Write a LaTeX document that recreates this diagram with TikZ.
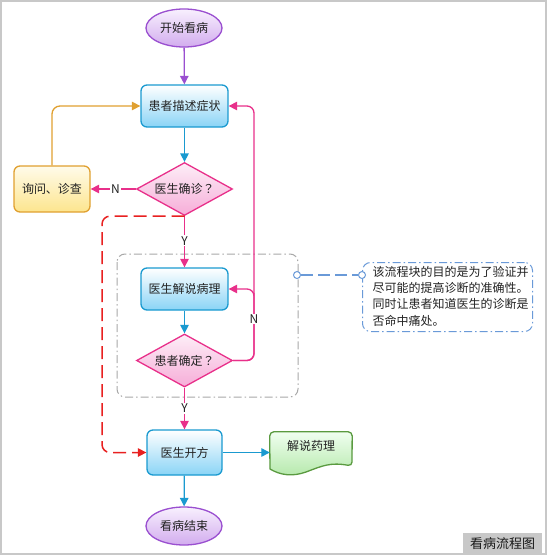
\documentclass[tikz,border=0pt]{standalone}
\usepackage{fontspec}
\setmainfont{Noto Sans CJK SC}
\newfontfamily\tcfont{Noto Sans CJK TC}
\usetikzlibrary{shapes.geometric,arrows.meta,calc}
\definecolor{cblue}{HTML}{1A9AD0}
\definecolor{cpink}{HTML}{E8308A}
\definecolor{cpurple}{HTML}{9A4FD0}
\definecolor{corange}{HTML}{E0A030}
\definecolor{cgreen}{HTML}{5A9A40}
\definecolor{cred}{HTML}{E82020}
\definecolor{cnote}{HTML}{6A9AD8}
\definecolor{cgrey}{HTML}{A8A8A8}
\definecolor{ctext}{HTML}{222222}
\definecolor{cframe}{HTML}{C8C8C8}
\definecolor{HTML8AD4F6}{HTML}{8AD4F6}
\definecolor{HTMLF8F0FE}{HTML}{F8F0FE}
\definecolor{HTMLD2ACEE}{HTML}{D2ACEE}
\definecolor{HTMLFDEEF7}{HTML}{FDEEF7}
\definecolor{HTMLF6ADD8}{HTML}{F6ADD8}
\definecolor{HTMLFFFBEA}{HTML}{FFFBEA}
\definecolor{HTMLFDE58E}{HTML}{FDE58E}
\definecolor{HTMLEFFFEF}{HTML}{F0FFF0}
\definecolor{HTMLB4E8AA}{HTML}{B4E8AA}
\tikzset{
  every node/.style={font=\fontsize{12pt}{14pt}\selectfont, text=ctext},
  procbox/.style={rectangle, rounded corners=6pt, draw=cblue, line width=1.3pt,
    top color=white, bottom color=HTML8AD4F6, minimum width=87pt, minimum height=42pt, inner sep=2pt},
  termbox/.style={ellipse, draw=cpurple, line width=1.3pt, top color=HTMLF8F0FE, bottom color=HTMLD2ACEE,
    minimum width=76pt, minimum height=38pt, inner sep=1pt},
  decbox/.style={diamond, draw=cpink, line width=1.3pt, top color=HTMLFDEEF7, bottom color=HTMLF6ADD8,
    minimum width=96pt, minimum height=53pt, aspect=1.85, inner sep=1pt},
  askbox/.style={rectangle, rounded corners=6pt, draw=corange, line width=1.3pt,
    top color=HTMLFFFBEA, bottom color=HTMLFDE58E, minimum width=76pt, minimum height=46pt},
  conn/.style={line width=1.3pt, -{Triangle[length=8.5pt,width=8.5pt]}},
  lab/.style={fill=white, inner sep=1pt, font=\fontsize{12pt}{13pt}\selectfont},
}
\begin{document}
\begin{tikzpicture}[x=1pt,y=-1pt]
\useasboundingbox (0,0) rectangle (547,555);
% frame
\draw[draw=cframe, line width=2pt] (1,1) rectangle (546,554);
\node[fill=cframe, minimum width=79pt, minimum height=20pt, inner sep=0pt, anchor=north west, font=\fontsize{13pt}{14pt}\selectfont, text=black!90] (title) at (463,533) {看病流程图};

% group frame
\draw[cgrey, line width=1pt, rounded corners=8pt, dash pattern=on 8pt off 3pt on 1.5pt off 3pt] (117,254) rectangle (298,397);

% nodes
\node[termbox] (start) at (184,28) {开始看病};
\node[procbox] (b1) at (184.5,106) {患者描述症状};
\node[decbox] (d1) at (184.5,189) {医生确诊{\tcfont ？}};
\node[askbox] (ask) at (52,189) {询问、诊查};
\node[procbox] (b2) at (184.5,289) {医生解说病理};
\node[decbox] (d2) at (184.5,360.5) {患者确定{\tcfont ？}};
\node[procbox, minimum width=75pt, minimum height=45pt] (b3) at (184.5,452.5) {医生开方};
\node[termbox] (end) at (184,526) {看病结束};

% document shape
\node[minimum width=82pt, minimum height=34pt, inner sep=0pt] (doc) at (311,449) {};
\path[draw=cgreen, line width=1.3pt, top color=HTMLEFFFEF, bottom color=HTMLB4E8AA, rounded corners=4pt]
  ($(doc.north west)+(0,17)$) -- (doc.north west) -- (doc.north east) -- (352,466)
  [sharp corners] .. controls (330,462) and (322,466) .. (306,472)
  .. controls (292,477) and (280,475) .. (270,469) [rounded corners=4pt] -- ($(doc.north west)+(0,17)$) -- cycle;
\node (doct) at (311,445.5) {解说药理};

% helper coordinates
\coordinate (rdx) at (102,330);
\coordinate (nx) at (254,300);

% connectors
\draw[conn, cpurple] (start) -- (b1);
\draw[conn, cblue] (b1) -- (d1);
\draw[conn, cpink] (d1.west) -- node[lab, pos=0.45]{N} (ask.east);
\draw[conn, corange, rounded corners=8pt] (ask.north) |- (b1.west);
\draw[conn, cpink] (d1.south) -- node[lab, pos=0.48]{Y} (b2.north);
\draw[conn, cred, line width=1.5pt, dash pattern=on 13pt off 6pt, rounded corners=8pt]
  (d1.south) -| (rdx) |- (b3.west);
\draw[conn, cblue] (b2) -- (d2);
\draw[conn, cpink, rounded corners=7pt] (d2.east) -| (nx) |- (b1.east);
\draw[conn, cpink, rounded corners=7pt] (d2.east) -| (nx) |- (b2.east);
\node[lab] (nlab) at (254,319) {N};
\draw[conn, cpink] (d2.south) -- node[lab, pos=0.5]{Y} (b3.north);
\draw[conn, cblue] (b3.east) -- (b3.east -| doc.west);
\draw[conn, cblue] (b3) -- (end);

% annotation
\node[draw=cnote, line width=1pt, rounded corners=8pt, dash pattern=on 8pt off 3pt on 1.5pt off 3pt,
  minimum width=170pt, minimum height=69pt, anchor=north west, inner sep=0pt] (note) at (362,262) {};
\node[anchor=north west, align=left, inner sep=0pt, font=\fontsize{12pt}{16.3pt}\selectfont] (notet) at (372.5,266)
  {该流程块的目的是为了验证并\\尽可能的提高诊断的准确性。\\同时让患者知道医生的诊断是\\否命中痛处。};
\node[circle, draw=cnote, fill=white, line width=1pt, minimum size=7pt, inner sep=0pt] (c1) at (297,275) {};
\node[circle, draw=cnote, fill=white, line width=1pt, minimum size=7pt, inner sep=0pt] (c2) at (362,275) {};
\draw[cnote, line width=1.3pt, dash pattern=on 12pt off 5pt] (c1) -- (c2);
\end{tikzpicture}
\end{document}
